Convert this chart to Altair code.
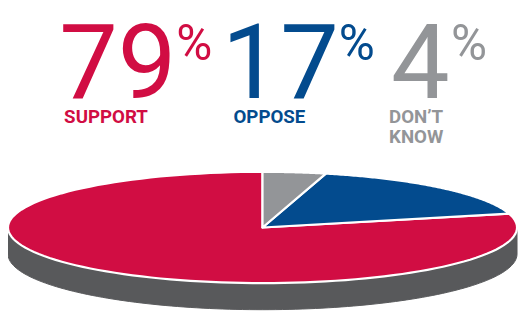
import json
import altair as alt
import pandas as pd

# ---- data ----
categories = ["SUPPORT", "OPPOSE", "DON'T KNOW"]
values = [79, 17, 4]
labels = ["SUPPORT", "OPPOSE", "DON\u2019T\nKNOW"]
pie_order = [3, 2, 1]          # clockwise from 12 o'clock: DON'T KNOW, OPPOSE, SUPPORT
colors = ["#d10d43", "#034b8e", "#939598"]
side_color = "#58595b"

# ---- layout constants (chart pixel space) ----
W, H = 519, 308
CX, CY, RX, RY, DEPTH = 258.5, 220.5, 258.5, 56.5, 27
N = 120
NUM_X = [52, 217, 389]
PCT_X = [171, 336, 450]
LAB_X = [57, 229, 387]

xs = alt.Scale(domain=[0, W], nice=False, zero=False)
ys = alt.Scale(domain=[0, H], nice=False, zero=False, reverse=True)

df = pd.DataFrame({
    "category": categories,
    "value": values,
    "label": labels,
    "porder": pie_order,
})
df["steps"] = [list(range(-1, N + 1)) for _ in categories]

CATS = json.dumps(categories)


def pos_expr(arr):
    return f"{json.dumps(arr)}[indexof({CATS}, datum.category)]"


# side band of the 3D pie (front half of the ellipse, extruded downward)
side = (
    alt.Chart(alt.sequence(0, 2 * N + 2, as_="k"))
    .transform_calculate(
        j=f"datum.k <= {N} ? datum.k : {2 * N + 1} - datum.k",
        dy=f"datum.k <= {N} ? 0 : {DEPTH}",
    )
    .transform_calculate(t=f"PI/2 + PI*datum.j/{N}")
    .transform_calculate(
        px=f"{CX} + {RX}*sin(datum.t)",
        py=f"{CY} - {RY}*cos(datum.t) + datum.dy",
    )
    .mark_line(filled=True, fill=side_color, stroke=side_color, strokeWidth=1,
               interpolate="linear-closed")
    .encode(
        x=alt.X("px:Q", scale=xs, axis=None),
        y=alt.Y("py:Q", scale=ys, axis=None),
        order="k:Q",
    )
)

slices = (
    alt.Chart(df)
    .transform_window(cum="sum(value)", sort=[alt.SortField("porder")], frame=[None, 0])
    .transform_joinaggregate(total="sum(value)")
    .transform_flatten(["steps"], as_=["k"])
    .transform_calculate(
        t=f"2*PI*((datum.cum - datum.value) + datum.value*max(datum.k,0)/{N})/datum.total"
    )
    .transform_calculate(
        px=f"datum.k < 0 ? {CX} : {CX} + {RX}*sin(datum.t)",
        py=f"datum.k < 0 ? {CY} : {CY} - {RY}*cos(datum.t)",
    )
    .mark_line(filled=True, stroke="white", strokeWidth=2.2, strokeJoin="round",
               interpolate="linear-closed")
    .encode(
        x=alt.X("px:Q", scale=xs, axis=None),
        y=alt.Y("py:Q", scale=ys, axis=None),
        color=alt.Color("category:N", scale=alt.Scale(domain=categories, range=colors), legend=None),
        detail="category:N",
        order="k:Q",
    )
)

FONT = "Roboto, Liberation Sans, sans-serif"
cscale = alt.Scale(domain=categories, range=colors)

numbers = (
    alt.Chart(df)
    .transform_calculate(xpos=pos_expr(NUM_X))
    .mark_text(font=FONT, fontSize=106, align="left", baseline="alphabetic")
    .encode(
        x=alt.X("xpos:Q", scale=xs, axis=None),
        y=alt.value(89),
        text=alt.Text("value:Q"),
        color=alt.Color("category:N", scale=cscale, legend=None),
    )
)

pct = (
    alt.Chart(df)
    .transform_calculate(xpos=pos_expr(PCT_X))
    .mark_text(font=FONT, fontSize=50, align="left", baseline="alphabetic")
    .encode(
        x=alt.X("xpos:Q", scale=xs, axis=None),
        y=alt.value(50),
        text=alt.value("%"),
        color=alt.Color("category:N", scale=cscale, legend=None),
    )
)

names = (
    alt.Chart(df)
    .transform_calculate(xpos=pos_expr(LAB_X))
    .mark_text(font=FONT, fontSize=19, fontWeight="bold", align="left", baseline="alphabetic",
               lineBreak="\n", lineHeight=21)
    .encode(
        x=alt.X("xpos:Q", scale=xs, axis=None),
        y=alt.value(114),
        text="label:N",
        color=alt.Color("category:N", scale=cscale, legend=None),
    )
)

chart = (
    alt.layer(side, slices, numbers, pct, names)
    .properties(width=W, height=H, autosize=alt.AutoSizeParams(type="none"), padding=0)
    .configure_view(stroke=None)
)

chart.save("out.html", embed_options={"renderer": "svg", "actions": False})
